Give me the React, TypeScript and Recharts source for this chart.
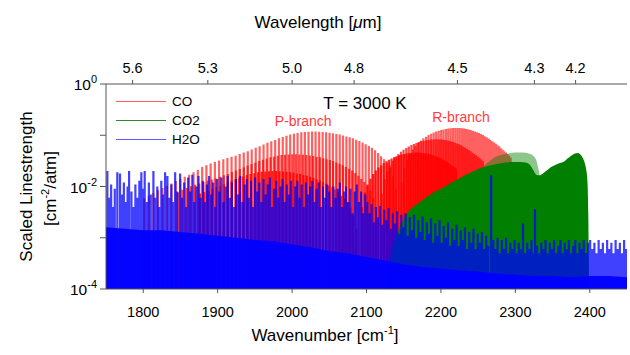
import React from 'react';
import { ComposedChart, Line, Area, XAxis, YAxis, ReferenceDot } from 'recharts';

type Stick = [number, number];

// CO 1-0 band, P and R branches: [wavenumber cm-1, scaled linestrength cm-2/atm]
const coV10P: Stick[] = [
  [2139.4, 0.009], [2135.5, 0.016], [2131.6, 0.023], [2127.7, 0.029], [2123.7, 0.034], [2119.6, 0.039],
  [2115.6, 0.045], [2111.5, 0.051], [2107.3, 0.057], [2103.2, 0.062], [2098.9, 0.067], [2094.7, 0.072],
  [2090.4, 0.077], [2086.1, 0.082], [2081.8, 0.087], [2077.4, 0.091], [2073.0, 0.095], [2068.5, 0.099],
  [2064.0, 0.103], [2059.5, 0.106], [2054.9, 0.109], [2050.4, 0.112], [2045.7, 0.114], [2041.1, 0.116],
  [2036.4, 0.117], [2031.6, 0.118], [2026.9, 0.118], [2022.1, 0.117], [2017.2, 0.116], [2012.4, 0.114],
  [2007.4, 0.111], [2002.5, 0.107], [1997.5, 0.103], [1992.5, 0.098], [1987.5, 0.092], [1982.4, 0.087],
  [1977.3, 0.081], [1972.1, 0.076], [1966.9, 0.071], [1961.7, 0.066], [1956.4, 0.061], [1951.2, 0.057],
  [1945.8, 0.053], [1940.5, 0.049], [1935.1, 0.046], [1929.6, 0.043], [1924.2, 0.040], [1918.7, 0.038],
  [1913.1, 0.036], [1907.6, 0.034], [1901.9, 0.032], [1896.3, 0.030], [1890.6, 0.028], [1884.9, 0.026],
  [1879.2, 0.024], [1873.4, 0.021], [1867.6, 0.019], [1861.7, 0.017], [1855.8, 0.0155], [1849.9, 0.014],
  [1843.9, 0.0128], [1837.9, 0.0115], [1831.9, 0.0104], [1825.9, 0.0094], [1819.8, 0.0085], [1813.6, 0.0075],
  [1807.5, 0.0066], [1801.3, 0.0058],
];
const coV10R: Stick[] = [
  [2147.1, 0.012], [2150.9, 0.023], [2154.7, 0.033], [2158.4, 0.043], [2162.1, 0.053], [2165.7, 0.062],
  [2169.3, 0.071], [2172.9, 0.079], [2176.4, 0.087], [2180.0, 0.094], [2183.4, 0.101], [2186.9, 0.107],
  [2190.3, 0.113], [2193.6, 0.118], [2197.0, 0.123], [2200.3, 0.127], [2203.5, 0.130], [2206.8, 0.133],
  [2209.9, 0.135], [2213.1, 0.137], [2216.2, 0.138], [2219.3, 0.139], [2222.4, 0.139], [2225.4, 0.138],
  [2228.4, 0.137], [2231.3, 0.135], [2234.2, 0.133], [2237.1, 0.130], [2239.9, 0.127], [2242.8, 0.123],
  [2245.5, 0.119], [2248.3, 0.115], [2251.0, 0.111], [2253.6, 0.106], [2256.3, 0.101], [2258.9, 0.096],
  [2261.4, 0.091], [2264.0, 0.086], [2266.4, 0.081], [2268.9, 0.076], [2271.3, 0.072], [2273.7, 0.068],
  [2276.1, 0.064], [2278.4, 0.060], [2280.7, 0.056], [2282.9, 0.052], [2285.1, 0.049], [2287.3, 0.046],
  [2289.4, 0.043], [2291.6, 0.040], [2293.6, 0.037],
];

// CO 2-1 hot band
const coV21P: Stick[] = [
  [2112.8, 0.0032], [2108.9, 0.0058], [2105.0, 0.0083], [2101.1, 0.0104], [2097.1, 0.0122], [2093.0, 0.014],
  [2089.0, 0.0162], [2084.9, 0.0184], [2080.7, 0.0205], [2076.6, 0.0223], [2072.3, 0.0241], [2068.1, 0.0259],
  [2063.8, 0.0277], [2059.5, 0.0295], [2055.2, 0.0313], [2050.8, 0.0328], [2046.4, 0.0342], [2041.9, 0.0356],
  [2037.4, 0.0371], [2032.9, 0.0382], [2028.3, 0.0392], [2023.8, 0.0403], [2019.1, 0.041], [2014.5, 0.0418],
  [2009.8, 0.0421], [2005.0, 0.0425], [2000.3, 0.0425], [1995.5, 0.0421], [1990.6, 0.0418], [1985.8, 0.041],
  [1980.8, 0.04], [1975.9, 0.0385], [1970.9, 0.0371], [1965.9, 0.0353], [1960.9, 0.0331], [1955.8, 0.0313],
  [1950.7, 0.0292], [1945.5, 0.0274], [1940.3, 0.0256], [1935.1, 0.0238], [1929.8, 0.022], [1924.6, 0.0205],
  [1919.2, 0.0191], [1913.9, 0.0176], [1908.5, 0.0166], [1903.0, 0.0155], [1897.6, 0.0144], [1892.1, 0.0137],
  [1886.5, 0.013], [1881.0, 0.0122], [1875.3, 0.0115], [1869.7, 0.0108], [1864.0, 0.0101], [1858.3, 0.0094],
  [1852.6, 0.0086], [1846.8, 0.0076],
];
const coV21R: Stick[] = [
  [2120.5, 0.0072], [2124.3, 0.0138], [2128.1, 0.0198], [2131.8, 0.0258], [2135.5, 0.0318], [2139.1, 0.0372],
  [2142.7, 0.0426], [2146.3, 0.0474], [2149.8, 0.0522], [2153.4, 0.0564], [2156.8, 0.0606], [2160.3, 0.0642],
  [2163.7, 0.0678], [2167.0, 0.0708], [2170.4, 0.0738], [2173.7, 0.0762], [2176.9, 0.078], [2180.2, 0.0798],
  [2183.3, 0.081], [2186.5, 0.0822], [2189.6, 0.0828], [2192.7, 0.0834], [2195.8, 0.0834], [2198.8, 0.0828],
  [2201.8, 0.0822], [2204.7, 0.081], [2207.6, 0.0798], [2210.5, 0.078], [2213.3, 0.0762], [2216.2, 0.0738],
  [2218.9, 0.0714], [2221.7, 0.069], [2224.4, 0.0666], [2227.0, 0.0636], [2229.7, 0.0606], [2232.3, 0.0576],
  [2234.8, 0.0546], [2237.4, 0.0516], [2239.8, 0.0486], [2242.3, 0.0456], [2244.7, 0.0432], [2247.1, 0.0408],
  [2249.5, 0.0384], [2251.8, 0.036], [2254.1, 0.0336], [2256.3, 0.0312],
];

// CO 3-2 hot band
const coV32P: Stick[] = [
  [2086.2, 0.0015], [2082.3, 0.0027], [2078.4, 0.0039], [2074.5, 0.0049], [2070.5, 0.0058], [2066.4, 0.0066],
  [2062.4, 0.0077], [2058.3, 0.0087], [2054.1, 0.0097], [2050.0, 0.0105], [2045.7, 0.0114], [2041.5, 0.0122],
  [2037.2, 0.0131], [2032.9, 0.0139], [2028.6, 0.0148], [2024.2, 0.0155], [2019.8, 0.0162], [2015.3, 0.0168],
  [2010.8, 0.0175], [2006.3, 0.018], [2001.7, 0.0185], [1997.2, 0.019], [1992.5, 0.0194], [1987.9, 0.0197],
  [1983.2, 0.0199], [1978.4, 0.02], [1973.7, 0.02], [1968.9, 0.0199], [1964.0, 0.0197], [1959.2, 0.0194],
  [1954.2, 0.0189], [1949.3, 0.0182], [1944.3, 0.0175], [1939.3, 0.0167], [1934.3, 0.0156], [1929.2, 0.0148],
  [1924.1, 0.0138], [1918.9, 0.0129], [1913.7, 0.0121], [1908.5, 0.0112], [1903.2, 0.0104], [1898.0, 0.0097],
  [1892.6, 0.009], [1887.3, 0.0083], [1881.9, 0.0078], [1876.4, 0.0073],
];
const coV32R: Stick[] = [
  [2093.9, 0.004], [2097.7, 0.0076], [2101.5, 0.0109], [2105.2, 0.0142], [2108.9, 0.0175], [2112.5, 0.0205],
  [2116.1, 0.0234], [2119.7, 0.0261], [2123.2, 0.0287], [2126.8, 0.031], [2130.2, 0.0333], [2133.7, 0.0353],
  [2137.1, 0.0373], [2140.4, 0.0389], [2143.8, 0.0406], [2147.1, 0.0419], [2150.3, 0.0429], [2153.6, 0.0439],
  [2156.7, 0.0446], [2159.9, 0.0452], [2163.0, 0.0455], [2166.1, 0.0459], [2169.2, 0.0459], [2172.2, 0.0455],
  [2175.2, 0.0452], [2178.1, 0.0446], [2181.0, 0.0439], [2183.9, 0.0429], [2186.7, 0.0419], [2189.6, 0.0406],
  [2192.3, 0.0393], [2195.1, 0.038], [2197.8, 0.0366], [2200.4, 0.035], [2203.1, 0.0333], [2205.7, 0.0317],
  [2208.2, 0.03], [2210.8, 0.0284], [2213.2, 0.0267], [2215.7, 0.0251], [2218.1, 0.0238], [2220.5, 0.0224],
];

// CO2 asymmetric-stretch band: lines are too dense to resolve, so only the upper envelope
const co2Band: Stick[] = [
  [2126, 0.00012], [2130, 0.0003], [2134, 0.0006], [2138, 0.0009], [2143, 0.0014], [2150, 0.0023],
  [2156, 0.0032], [2165, 0.0042], [2175, 0.0054], [2188, 0.0073], [2202, 0.0093], [2217, 0.0125],
  [2233, 0.0167], [2247, 0.021], [2260, 0.0245], [2272, 0.027], [2285, 0.029], [2297, 0.030],
  [2307, 0.030], [2315, 0.029], [2320, 0.026], [2324, 0.021], [2328, 0.017], [2332, 0.0165],
  [2337, 0.018], [2343, 0.021], [2348, 0.024], [2355, 0.027], [2361, 0.029], [2366, 0.031],
  [2370, 0.035], [2375, 0.040], [2380, 0.044], [2384, 0.045], [2388, 0.041], [2391, 0.035],
  [2394, 0.026], [2396, 0.018], [2397, 0.0117], [2398, 0.003], [2399, 0.0001],
];
// CO2 hot-band envelope showing above the main band
const co2HotBand: Stick[] = [
  [2255, 0.0001], [2256, 0.022], [2265, 0.031], [2272, 0.037], [2280, 0.041], [2290, 0.044],
  [2300, 0.046], [2310, 0.046], [2318, 0.044], [2324, 0.040], [2328, 0.033], [2331, 0.022],
  [2333, 0.015], [2334, 0.0001],
];

// H2O: the dense weak-line floor plus the individual stronger lines
const h2oFloor: Stick[] = [
  [1750, 0.0016], [1775, 0.0015], [1800, 0.0014], [1825, 0.0014], [1850, 0.0013], [1875, 0.0012],
  [1900, 0.0011], [1925, 0.001], [1950, 0.0009], [1975, 0.00085], [2000, 0.00075], [2025, 0.00065],
  [2050, 0.00055], [2075, 0.0005], [2100, 0.00042], [2125, 0.00036], [2150, 0.0003], [2175, 0.00027],
  [2200, 0.00025], [2225, 0.00023], [2250, 0.00022], [2275, 0.0002], [2300, 0.00019], [2325, 0.00018],
  [2350, 0.00018], [2375, 0.00017], [2400, 0.00018], [2425, 0.00018], [2450, 0.00017],
];
const h2oLines: Stick[] = [
  [1751.8, 0.020], [1754.0, 0.006], [1756.9, 0.011], [1759.3, 0.004], [1761.8, 0.009], [1765.2, 0.019],
  [1768.8, 0.018], [1771.5, 0.007], [1774.0, 0.012], [1776.6, 0.005], [1779.0, 0.010], [1781.0, 0.020],
  [1784.2, 0.008], [1786.9, 0.004], [1789.5, 0.011], [1792.1, 0.006], [1794.8, 0.013], [1797.5, 0.019],
  [1800.0, 0.009], [1802.0, 0.020], [1804.9, 0.005], [1807.6, 0.012], [1810.2, 0.007], [1813.7, 0.020],
  [1816.4, 0.006], [1818.9, 0.010], [1821.7, 0.004], [1824.3, 0.013], [1826.8, 0.007], [1829.4, 0.019],
  [1832.5, 0.016], [1835.2, 0.006], [1837.8, 0.011], [1840.3, 0.005], [1842.9, 0.019], [1845.7, 0.008],
  [1849.6, 0.018], [1852.3, 0.006], [1855.0, 0.012], [1857.8, 0.004], [1860.4, 0.015], [1863.2, 0.008],
  [1866.0, 0.017], [1868.7, 0.005], [1871.4, 0.010], [1874.3, 0.016], [1877.0, 0.006], [1880.1, 0.013],
  [1882.8, 0.005], [1885.5, 0.011], [1888.4, 0.016], [1891.0, 0.007], [1893.8, 0.012], [1896.7, 0.004],
  [1899.5, 0.014], [1902.3, 0.008], [1905.1, 0.015], [1908.0, 0.005], [1910.8, 0.010], [1913.5, 0.016],
  [1916.4, 0.006], [1919.2, 0.012], [1922.0, 0.004], [1924.9, 0.014], [1927.7, 0.007], [1930.6, 0.016],
  [1933.3, 0.005], [1936.1, 0.011], [1939.0, 0.014], [1941.8, 0.006], [1944.7, 0.013], [1947.5, 0.004],
  [1950.3, 0.015], [1953.2, 0.008], [1956.0, 0.012], [1958.9, 0.005], [1961.6, 0.014], [1964.5, 0.007],
  [1967.3, 0.011], [1970.2, 0.015], [1973.0, 0.004], [1975.8, 0.009], [1978.7, 0.013], [1981.5, 0.006],
  [1984.4, 0.010], [1987.2, 0.014], [1990.1, 0.005], [1992.9, 0.011], [1995.8, 0.007], [1998.6, 0.013],
  [2001.5, 0.004], [2004.3, 0.010], [2007.2, 0.013], [2010.0, 0.006], [2012.9, 0.011], [2015.7, 0.004],
  [2018.6, 0.012], [2021.4, 0.007], [2024.3, 0.010], [2027.1, 0.013], [2030.0, 0.005], [2032.8, 0.009],
  [2035.7, 0.012], [2038.5, 0.004], [2041.4, 0.010], [2044.2, 0.006], [2047.1, 0.011], [2049.9, 0.008],
  [2052.8, 0.004], [2055.6, 0.010], [2058.5, 0.006], [2061.3, 0.009], [2064.2, 0.012], [2067.0, 0.004],
  [2069.9, 0.008], [2072.7, 0.010], [2075.6, 0.005], [2078.4, 0.009], [2081.3, 0.003], [2084.1, 0.008],
  [2087.0, 0.011], [2089.8, 0.005], [2092.7, 0.008], [2095.5, 0.003], [2098.4, 0.007], [2101.2, 0.005],
  [2104.1, 0.003], [2106.9, 0.0045], [2109.8, 0.002], [2112.6, 0.004], [2115.5, 0.0025], [2118.3, 0.0042],
  [2121.2, 0.0018], [2124.0, 0.0035], [2126.9, 0.0022], [2129.7, 0.0038], [2132.6, 0.0015], [2135.4, 0.003],
  [2138.3, 0.0019], [2141.1, 0.0033], [2144.0, 0.0012], [2146.8, 0.0028], [2149.7, 0.0016], [2152.5, 0.003],
  [2155.4, 0.0011], [2158.2, 0.0025], [2161.1, 0.0014], [2163.9, 0.0028], [2166.8, 0.001], [2169.6, 0.0022],
  [2172.5, 0.0013], [2175.3, 0.0026], [2178.2, 0.0009], [2181.0, 0.002], [2183.9, 0.0012], [2186.7, 0.0024],
  [2189.6, 0.0008], [2192.4, 0.0019], [2195.3, 0.0011], [2198.1, 0.0022], [2201.0, 0.0008], [2203.8, 0.0017],
  [2206.7, 0.001], [2209.5, 0.002], [2212.4, 0.0007], [2215.2, 0.0015], [2218.1, 0.0009], [2220.9, 0.0018],
  [2223.8, 0.0007], [2226.6, 0.0014], [2229.5, 0.0009], [2232.3, 0.0016], [2235.2, 0.0006], [2238.0, 0.0013],
  [2240.9, 0.0008], [2243.7, 0.0015], [2246.6, 0.0006], [2249.4, 0.0012], [2252.3, 0.0008], [2255.1, 0.0013],
  [2258.0, 0.0006], [2260.8, 0.0011], [2263.7, 0.0007], [2267.5, 0.0165], [2270.4, 0.0009], [2273.2, 0.0006],
  [2276.1, 0.001], [2278.9, 0.0005], [2281.8, 0.0009], [2284.6, 0.0006], [2287.5, 0.001], [2290.3, 0.0005],
  [2293.2, 0.0008], [2296.0, 0.0006], [2298.9, 0.0009], [2301.7, 0.0005], [2304.6, 0.0008], [2307.4, 0.0006],
  [2310.3, 0.0019], [2313.1, 0.0005], [2316.0, 0.0008], [2318.8, 0.0006], [2321.7, 0.0009], [2324.5, 0.0005],
  [2326.4, 0.0036], [2329.2, 0.0007], [2332.1, 0.0005], [2334.9, 0.0008], [2337.8, 0.0006], [2340.6, 0.0009],
  [2343.5, 0.0005], [2346.3, 0.0008], [2349.2, 0.0006], [2352.0, 0.0009], [2354.9, 0.0005], [2357.7, 0.0007],
  [2360.6, 0.0009], [2363.4, 0.0005], [2366.3, 0.0008], [2369.1, 0.0006], [2372.0, 0.0009], [2374.8, 0.0005],
  [2377.7, 0.0007], [2380.5, 0.0009], [2383.4, 0.0005], [2386.2, 0.0008], [2389.1, 0.0006], [2391.9, 0.0009],
  [2394.8, 0.0005], [2397.6, 0.0008], [2400.5, 0.0009], [2403.3, 0.0006], [2406.2, 0.0008], [2409.0, 0.0005],
  [2411.9, 0.0009], [2414.7, 0.0006], [2417.6, 0.0008], [2420.4, 0.0005], [2423.3, 0.0009], [2426.1, 0.0006],
  [2429.0, 0.0008], [2431.8, 0.0005], [2434.7, 0.0009], [2437.5, 0.0006], [2440.4, 0.0008], [2443.2, 0.0005],
  [2446.1, 0.0009], [2448.9, 0.0006],
];

const wavenumberTicks = [1800, 1900, 2000, 2100, 2200, 2300, 2400];
const wavelengthLabels = ['5.6', '5.3', '5.0', '4.8', '4.5', '4.3', '4.2'];
const decades = [1e-4, 1e-3, 1e-2, 1e-1, 1];
const minorSteps = [2, 3, 4, 5, 6, 7, 8, 9];

const legendItems = [
  { name: 'CO', color: '#ff5c5c' },
  { name: 'CO2', color: '#2b8a2b' },
  { name: 'H2O', color: '#5c5cff' },
];

const FONT = '"Liberation Sans", Arial, sans-serif';
const FLOOR = 1e-4;
const X_DOMAIN: [number, number] = [1750, 2450];
const Y_DOMAIN: [number, number] = [FLOOR, 1];

const minorTicks = decades.slice(0, -1).flatMap((d) => minorSteps.map((m) => Number((d * m).toPrecision(2))));
const wavelengthTicks = wavelengthLabels.map((l) => 1e4 / parseFloat(l));

// every line becomes its own sub-path: floor -> strength, then a gap
const sticks = (...groups: Stick[][]) =>
  groups.flat().flatMap(([x, s]) => [
    { x, y: FLOOR },
    { x, y: s },
    { x, y: null as number | null },
  ]);
const envelope = (pts: Stick[]) => pts.map(([x, y]) => ({ x, y }));

const PowerTick = (props: any) => {
  const { x, y, payload } = props;
  const exp = Math.round(Math.log10(payload.value));
  if (exp % 2 !== 0) return <g />;
  return (
    <text x={x} y={y + 6} textAnchor="end" fontSize={15.5} fill="#000">
      10
      <tspan dy={-7} fontSize={11}>
        {exp}
      </tspan>
    </text>
  );
};

const BottomTitle = (props: any) => {
  const { viewBox } = props;
  return (
    <text x={viewBox.x + 219} y={viewBox.y + 52} textAnchor="middle" fontSize={17} fill="#000">
      Wavenumber [cm
      <tspan dy={-7} fontSize={11}>
        -1
      </tspan>
      <tspan dy={7}>]</tspan>
    </text>
  );
};

const TopTitle = (props: any) => {
  const { viewBox } = props;
  return (
    <text x={viewBox.x + 212} y={viewBox.y + 28} textAnchor="middle" fontSize={17} fill="#000">
      Wavelength [<tspan fontStyle="italic">μ</tspan>m]
    </text>
  );
};

const LeftTitle = (props: any) => {
  const { viewBox } = props;
  const cy = viewBox.y + viewBox.height / 2;
  return (
    <g fontSize={17} fill="#000">
      <text x={32} y={cy} textAnchor="middle" transform={`rotate(-90, 32, ${cy})`}>
        Scaled Linestrength
      </text>
      <text x={56} y={cy + 2} textAnchor="middle" transform={`rotate(-90, 56, ${cy + 2})`}>
        [cm
        <tspan dy={-7} fontSize={11}>
          -2
        </tspan>
        <tspan dy={7}>/atm]</tspan>
      </text>
    </g>
  );
};

const axisColor = '#555';
const tickStyle = { fill: '#000', fontSize: 14.5 };

const stickProps = {
  xAxisId: 'bottom',
  yAxisId: 'left',
  dataKey: 'y',
  dot: false,
  activeDot: false,
  isAnimationActive: false,
  legendType: 'none' as const,
  strokeLinecap: 'butt' as const,
};

export default function App() {
  return (
    <div style={{ position: 'relative', width: 630, height: 355, fontFamily: FONT, background: '#fff' }}>
      <style>{'body { margin: 0; }'}</style>
      <ComposedChart width={630} height={355} margin={{ top: 0, right: 3, bottom: 0, left: 0 }}>
        <XAxis
          xAxisId="bottom"
          type="number"
          dataKey="x"
          domain={X_DOMAIN}
          allowDataOverflow
          ticks={wavenumberTicks}
          interval={0}
          tickSize={4}
          tickMargin={14}
          height={66}
          stroke={axisColor}
          tick={tickStyle}
          label={BottomTitle}
        />
        <XAxis
          xAxisId="top"
          orientation="top"
          type="number"
          dataKey="x"
          domain={X_DOMAIN}
          allowDataOverflow
          ticks={wavelengthTicks}
          tickFormatter={(_v: number, i: number) => wavelengthLabels[i]}
          interval={0}
          tickSize={4}
          tickMargin={7}
          height={84}
          stroke={axisColor}
          tick={tickStyle}
          label={TopTitle}
        />
        <YAxis
          yAxisId="left"
          type="number"
          scale="log"
          domain={Y_DOMAIN}
          allowDataOverflow
          ticks={decades}
          interval={0}
          tickSize={6}
          tickMargin={3}
          width={106}
          stroke={axisColor}
          tick={(p: any) => <PowerTick {...p} />}
          label={LeftTitle}
        />
        <YAxis
          yAxisId="minor"
          type="number"
          scale="log"
          domain={Y_DOMAIN}
          allowDataOverflow
          ticks={minorTicks}
          interval={0}
          tickSize={3}
          width={0}
          stroke={axisColor}
          tickFormatter={() => ''}
        />
        <YAxis
          yAxisId="right"
          orientation="right"
          type="number"
          scale="log"
          domain={Y_DOMAIN}
          allowDataOverflow
          ticks={[...decades, ...minorTicks]}
          interval={0}
          tickSize={3}
          width={0}
          stroke={axisColor}
          tickFormatter={() => ''}
        />

        {/* CO: fundamental plus two hot bands, overlapping sticks deepen the red */}
        <Line {...stickProps} data={sticks(coV10P, coV10R)} stroke="#ff0000" strokeOpacity={0.62} strokeWidth={2.2} zIndex={110} />
        <Line {...stickProps} data={sticks(coV21P, coV21R)} stroke="#ff0000" strokeOpacity={0.72} strokeWidth={2.2} zIndex={111} />
        <Line {...stickProps} data={sticks(coV32P, coV32R)} stroke="#ff0000" strokeOpacity={0.85} strokeWidth={2.2} zIndex={112} />

        {/* CO2 */}
        <Area
          xAxisId="bottom"
          yAxisId="left"
          data={envelope(co2HotBand)}
          dataKey="y"
          type="monotone"
          stroke="none"
          fill="#008000"
          fillOpacity={0.45}
          isAnimationActive={false}
          legendType="none"
          zIndex={120}
        />
        <Area
          xAxisId="bottom"
          yAxisId="left"
          data={envelope(co2Band)}
          dataKey="y"
          type="monotone"
          stroke="none"
          fill="#007f00"
          fillOpacity={1}
          isAnimationActive={false}
          legendType="none"
          zIndex={121}
        />

        {/* H2O */}
        <Area
          xAxisId="bottom"
          yAxisId="left"
          data={envelope(h2oFloor)}
          dataKey="y"
          type="linear"
          stroke="none"
          fill="#0000ff"
          fillOpacity={0.95}
          isAnimationActive={false}
          legendType="none"
          zIndex={130}
        />
        <Line {...stickProps} data={sticks(h2oLines)} stroke="#0000ff" strokeOpacity={0.75} strokeWidth={2.2} zIndex={131} />

        <ReferenceDot
          xAxisId="bottom"
          yAxisId="left"
          x={2098}
          y={0.426}
          r={0}
          stroke="none"
          label={{ value: 'T = 3000 K', position: 'center', fill: '#000', fontSize: 17 }}
        />
        <ReferenceDot
          xAxisId="bottom"
          yAxisId="left"
          x={2015}
          y={0.19}
          r={0}
          stroke="none"
          label={{ value: 'P-branch', position: 'center', fill: '#ff3b3b', fontSize: 14 }}
        />
        <ReferenceDot
          xAxisId="bottom"
          yAxisId="left"
          x={2227}
          y={0.227}
          r={0}
          stroke="none"
          label={{ value: 'R-branch', position: 'center', fill: '#ff3b3b', fontSize: 14 }}
        />
      </ComposedChart>

      <div style={{ position: 'absolute', left: 116, top: 92, fontSize: 13.5, color: '#000' }}>
        {legendItems.map((item) => (
          <div key={item.name} style={{ display: 'flex', alignItems: 'center', height: 19 }}>
            <span style={{ display: 'inline-block', width: 50, borderTop: `1.5px solid ${item.color}`, marginRight: 6 }} />
            <span>{item.name}</span>
          </div>
        ))}
      </div>
    </div>
  );
}
